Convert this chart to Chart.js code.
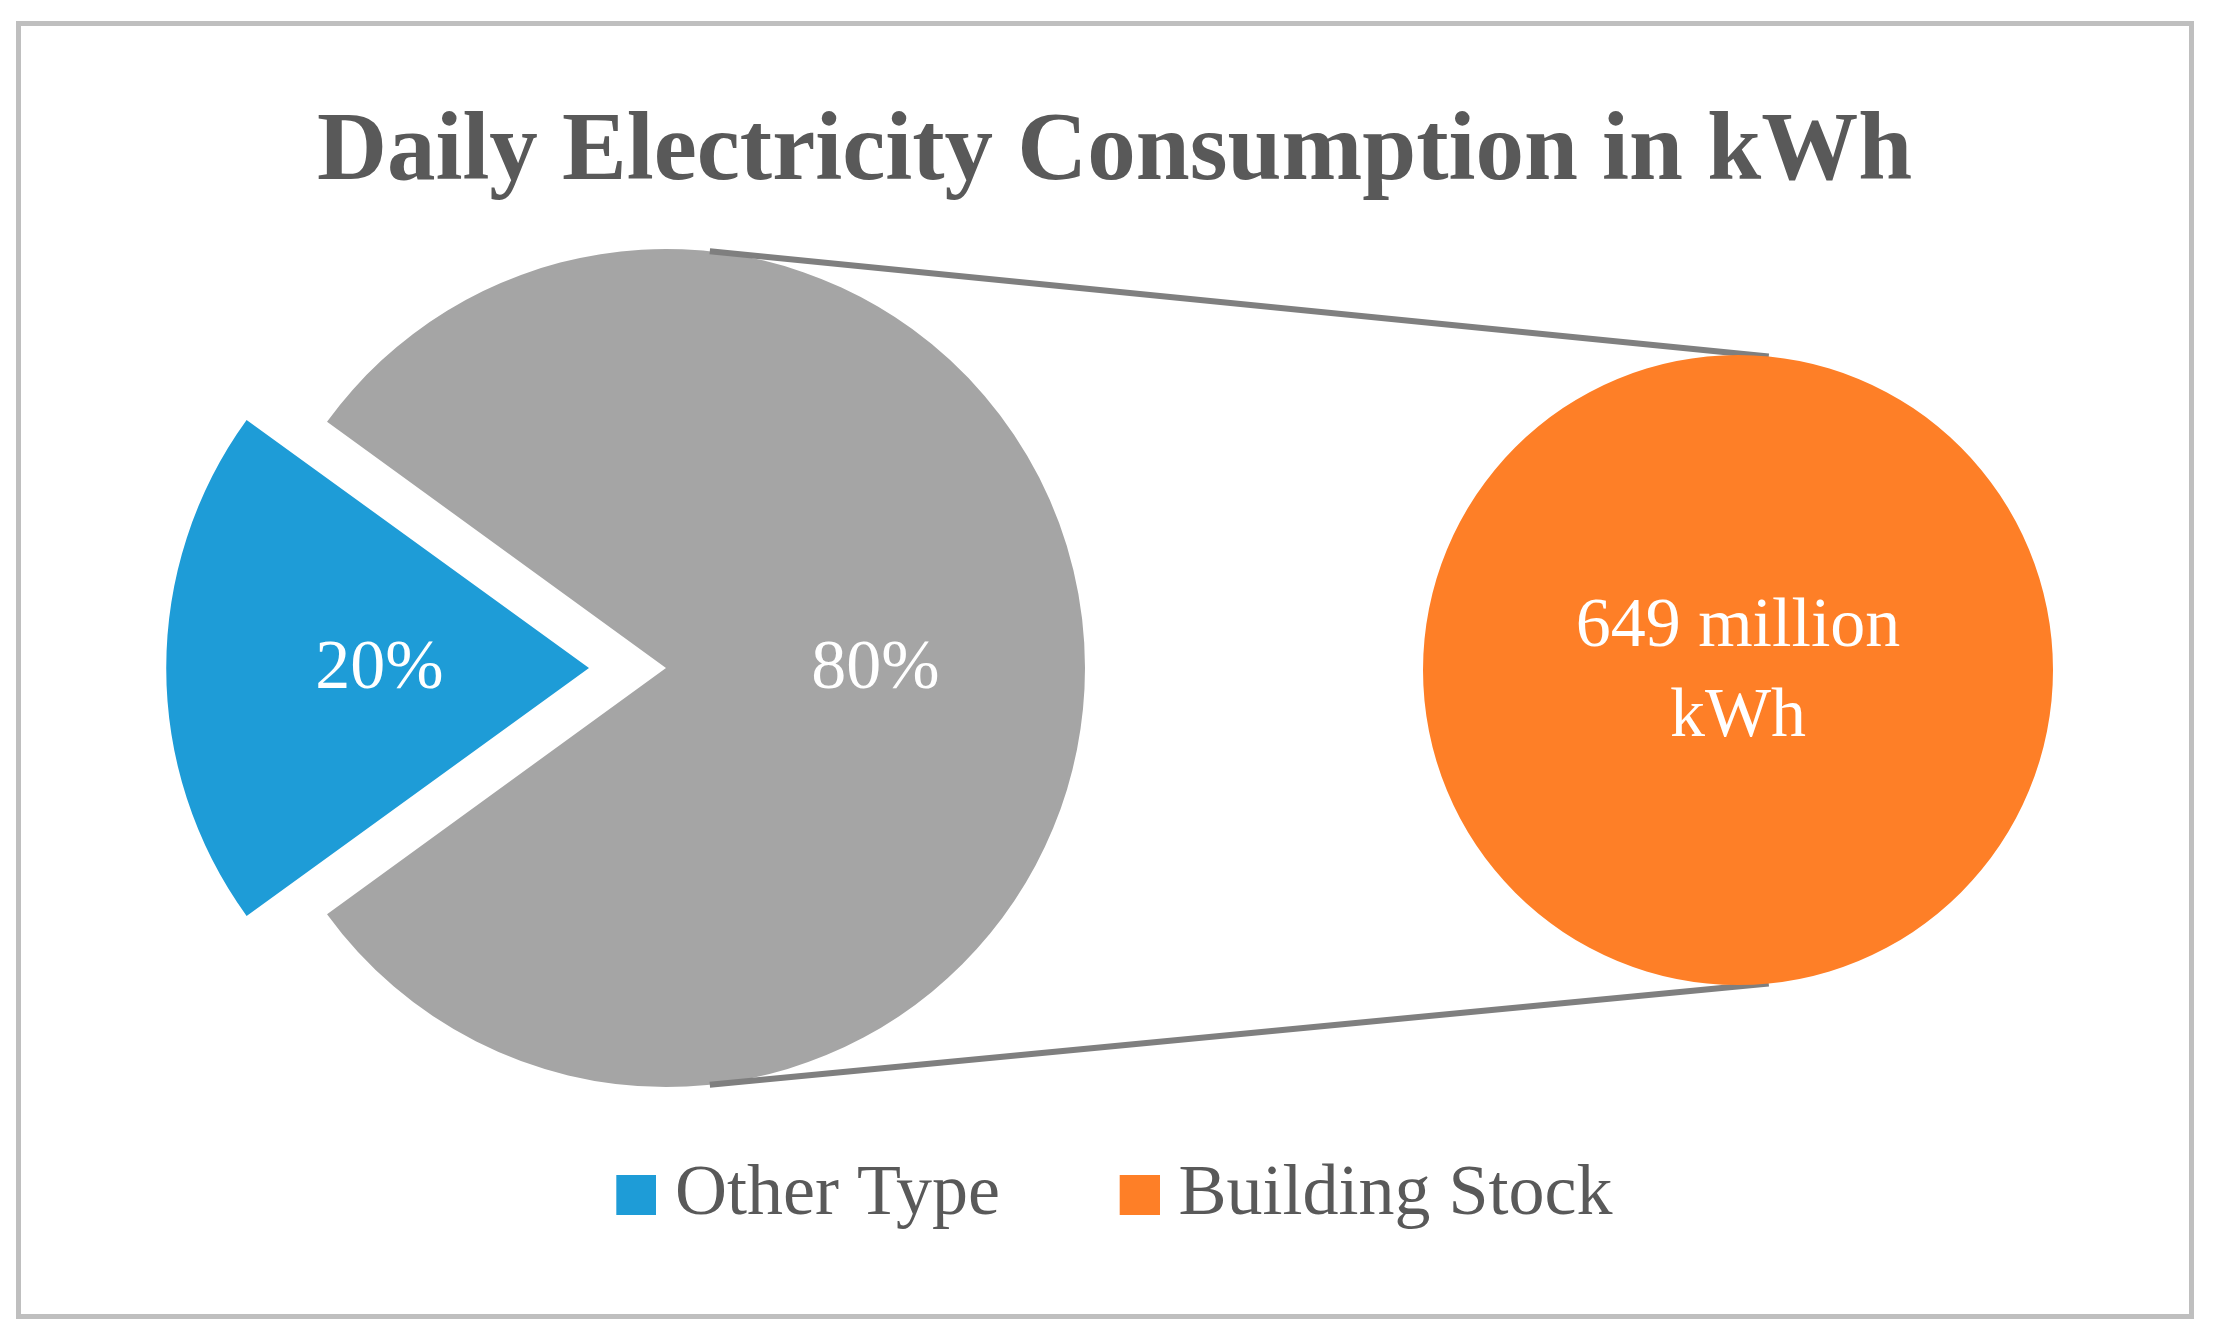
<!DOCTYPE html>
<html>
<head>
<meta charset="utf-8">
<script src="https://cdn.jsdelivr.net/npm/chart.js@4"></script>
<style>
  html, body { margin: 0; padding: 0; background: #ffffff; }
  #wrap { position: relative; width: 2223px; height: 1341px; overflow: hidden; }
  #wrap canvas { position: absolute; left: 0; top: 0; width: 2223px; height: 1341px; }
  #frame { position: absolute; left: 16px; top: 21px; width: 2178px; height: 1298px;
           box-sizing: border-box; border: 5px solid #bfbfbf; pointer-events: none; }
</style>
</head>
<body>
<div id="wrap">
  <canvas id="main" width="2223" height="1341"></canvas>
  <canvas id="zoom" width="2223" height="1341"></canvas>
  <div id="frame"></div>
</div>
<script>
// ---------- data ----------
const chartTitle = 'Daily Electricity Consumption in kWh';
const primaryCategories = ['Other Type', 'Building Stock'];
const primaryShares = [20, 80];            // percent of daily consumption
const secondaryCategories = ['Building Stock'];
const secondaryValues = [649];             // million kWh
const secondaryUnits = ['million', 'kWh'];
const legendLabels = ['Other Type', 'Building Stock'];

// ---------- styles ----------
const SERIF = "'Liberation Serif', 'Times New Roman', serif";
const TEXT_GREY = '#595959';
const primaryColors = ['#1E9CD7', '#A5A5A5'];
const secondaryColors = ['#FE7F27'];
const legendColors = ['#1E9CD7', '#FE7F27'];

// legend swatch: 40px square placed at the right end of a wider transparent image
function makeSwatch(color) {
  const c = document.createElement('canvas');
  c.width = 57; c.height = 40;
  const g = c.getContext('2d');
  g.fillStyle = color;
  g.fillRect(17, 0, 40, 40);
  return c;
}

// place the pie of a chart at a given center / radius
function placeArea(cx, cy, r) {
  return {
    id: 'placeArea',
    afterLayout(chart) {
      Object.assign(chart.chartArea, {
        left: cx - r, right: cx + r, top: cy - r, bottom: cy + r, width: 2 * r, height: 2 * r
      });
    }
  };
}

const sliceLabels = {
  id: 'sliceLabels',
  afterDatasetsDraw(chart) {
    const meta = chart.getDatasetMeta(0);
    const values = chart.data.datasets[0].data;
    const total = values.reduce((a, b) => a + b, 0);
    const ctx = chart.ctx;
    ctx.save();
    ctx.fillStyle = '#ffffff';
    ctx.font = '70px ' + SERIF;
    ctx.textAlign = 'center';
    ctx.textBaseline = 'middle';
    meta.data.forEach((arc, i) => {
      const mid = (arc.startAngle + arc.endAngle) / 2;
      const shift = (arc.options.offset || 0) / 4;
      const d = shift + arc.outerRadius / 2;
      const txt = Math.round(values[i] / total * 100) + '%';
      ctx.fillText(txt, arc.x + Math.cos(mid) * d, arc.y + Math.sin(mid) * d + 2);
    });
    ctx.restore();
  }
};

const mainChart = new Chart(document.getElementById('main'), {
  type: 'pie',
  data: {
    labels: primaryCategories,
    datasets: [{
      data: primaryShares,
      backgroundColor: primaryColors,
      borderWidth: 0,
      offset: [308, 0],
      rotation: 234,
      radius: 419,
      clip: false
    }]
  },
  options: {
    responsive: false,
    animation: false,
    events: [],
    layout: { padding: { top: 0, bottom: 100, left: 6, right: 0 } },
    plugins: {
      title: {
        display: true,
        text: chartTitle,
        color: TEXT_GREY,
        font: { family: SERIF, size: 97, weight: 'bold', lineHeight: 1.2 },
        padding: { top: 96, bottom: 0 }
      },
      legend: {
        position: 'bottom',
        labels: {
          usePointStyle: true,
          boxWidth: 22.5,
          boxHeight: 40,
          padding: 120,
          color: TEXT_GREY,
          font: { family: SERIF, size: 72 },
          generateLabels: () => legendLabels.map((t, i) => ({
            text: t,
            fillStyle: legendColors[i],
            strokeStyle: legendColors[i],
            pointStyle: makeSwatch(legendColors[i]),
            lineWidth: 0,
            fontColor: TEXT_GREY,
            hidden: false,
            index: i
          }))
        }
      },
      tooltip: { enabled: false }
    }
  },
  plugins: [placeArea(666, 668, 419), sliceLabels]
});

const connectors = {
  id: 'connectors',
  beforeDatasetsDraw(chart) {
    const src = mainChart.getDatasetMeta(0).data[1];
    const dst = chart.getDatasetMeta(0).data[0];
    const a1 = 6 * Math.PI / 180, a2 = 5.6 * Math.PI / 180;
    const ctx = chart.ctx;
    ctx.save();
    ctx.strokeStyle = '#7f7f7f';
    ctx.lineWidth = 6;
    [-1, 1].forEach(s => {
      ctx.beginPath();
      ctx.moveTo(src.x + src.outerRadius * Math.sin(a1), src.y + s * src.outerRadius * Math.cos(a1));
      ctx.lineTo(dst.x + dst.outerRadius * Math.sin(a2), dst.y + s * dst.outerRadius * Math.cos(a2));
      ctx.stroke();
    });
    ctx.restore();
  }
};

const valueLabel = {
  id: 'valueLabel',
  afterDatasetsDraw(chart) {
    const arc = chart.getDatasetMeta(0).data[0];
    const v = chart.data.datasets[0].data[0];
    const lines = [v + ' ' + secondaryUnits[0], secondaryUnits[1]];
    const ctx = chart.ctx;
    ctx.save();
    ctx.fillStyle = '#ffffff';
    ctx.font = '70px ' + SERIF;
    ctx.textAlign = 'center';
    ctx.textBaseline = 'middle';
    ctx.fillText(lines[0], arc.x, arc.y - 42);
    ctx.fillText(lines[1], arc.x, arc.y + 48);
    ctx.restore();
  }
};

const zoomChart = new Chart(document.getElementById('zoom'), {
  type: 'pie',
  data: {
    labels: secondaryCategories,
    datasets: [{
      data: secondaryValues,
      backgroundColor: secondaryColors,
      borderWidth: 0,
      radius: 315,
      clip: false
    }]
  },
  options: {
    responsive: false,
    animation: false,
    events: [],
    plugins: {
      legend: { display: false },
      title: { display: false },
      tooltip: { enabled: false }
    }
  },
  plugins: [placeArea(1738, 670, 315), connectors, valueLabel]
});
</script>
</body>
</html>
